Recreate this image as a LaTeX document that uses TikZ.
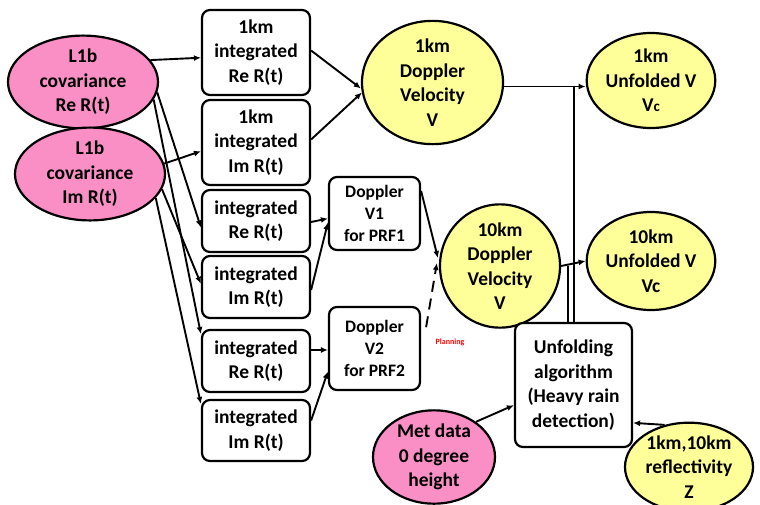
\documentclass[tikz,border=0pt]{standalone}
\usepackage{fontspec}
\setmainfont{Carlito}
\usetikzlibrary{shapes.geometric,arrows.meta,calc}
\definecolor{pinkfill}{RGB}{250,143,198}
\definecolor{yelfill}{RGB}{255,255,153}
\begin{document}
\begin{tikzpicture}[x=1pt,y=-1pt,
  every node/.style={font=\bfseries\fontsize{19.5}{24.5}\selectfont, align=center, inner sep=0pt, line width=2.2pt, draw=black},
  box/.style={rectangle, rounded corners=8pt, fill=white},
  small/.style={font=\bfseries\fontsize{17.5}{22}\selectfont},
  pinkell/.style={ellipse, fill=pinkfill},
  yelell/.style={ellipse, fill=yelfill},
  conn/.style={line width=1.9pt, draw=black, -{Latex[length=7pt,width=6pt]}},
  plain/.style={line width=1.9pt, draw=black},
]
\useasboundingbox (0,0) rectangle (760,504);
\clip (0,0) rectangle (760,504);
\fill[white] (0,0) rectangle (760,504);

% pink ellipses
\node[pinkell, minimum width=150pt, minimum height=90pt] (re) at (83,82) {L1b\\covariance\\Re R(t)};
\node[pinkell, minimum width=150pt, minimum height=88pt] (im) at (90,174) {L1b\\covariance\\Im R(t)};

% integration boxes
\node[box, minimum width=108pt, minimum height=85pt] (b1) at (256,52.5) {1km\\integrated\\Re R(t)};
\node[box, minimum width=108pt, minimum height=85pt] (b2) at (256,142.5) {1km\\integrated\\Im R(t)};
\node[box, minimum width=108pt, minimum height=62pt] (b3) at (256,221) {integrated\\Re R(t)};
\node[box, minimum width=108pt, minimum height=62pt] (b4) at (256,287) {integrated\\Im R(t)};
\node[box, minimum width=108pt, minimum height=62pt] (b5) at (256,361) {integrated\\Re R(t)};
\node[box, minimum width=108pt, minimum height=61pt] (b6) at (256,430.5) {integrated\\Im R(t)};

% Doppler boxes
\node[box, small, minimum width=91pt, minimum height=73pt] (d1) at (374.5,213.5) {Doppler\\V1\\for PRF1};
\node[box, small, minimum width=91pt, minimum height=83pt] (d2) at (374.5,348.5) {Doppler\\V2\\for PRF2};

% yellow ellipses
\node[yelell, minimum width=141pt, minimum height=109pt] (v1) at (432.5,82.5) {1km\\Doppler\\Velocity\\V};
\node[yelell, minimum width=120pt, minimum height=108pt] (v10) at (500,266) {10km\\Doppler\\Velocity\\V};
\node[yelell, minimum width=128pt, minimum height=95pt] (u1) at (651,80.5) {1km\\Unfolded V\\V{\fontsize{15}{15}\selectfont c}};
\node[yelell, minimum width=128pt, minimum height=98pt] (u10) at (651,261) {10km\\Unfolded V\\Vc};

% unfolding
\node[box, minimum width=117pt, minimum height=124pt] (unf) at (573.5,385) {Unfolding\\algorithm\\(Heavy rain\\detection)};
\node[pinkell, minimum width=122pt, minimum height=87pt] (met) at (434,457) {Met data\\0 degree\\height};
\node[yelell, minimum width=128pt, minimum height=86pt] (refl) at (689,467) {1km,10km\\reflectivity\\Z};

% Planning label
\node[draw=none, text=red, font=\bfseries\fontsize{8}{9}\selectfont] (plan) at (450,342) {Planning};

% connectors from ellipses to boxes
\draw[conn] (re.18) -- ($(b1.north west)!0.56!(b1.south west)$);
\draw[conn] (re.-8) -- ($(b3.north west)!0.6!(b3.south west)$);
\draw[conn] (re.-14) -- ($(b5.north west)!0.08!(b5.south west)$);
\draw[conn] (im.8) -- ($(b2.north west)!0.6!(b2.south west)$);
\draw[conn] (im.-12) -- ($(b4.north west)!0.45!(b4.south west)$);
\draw[conn] (im.-20) -- ($(b6.north west)!0.08!(b6.south west)$);

% boxes to 1km Doppler
\draw[conn] ($(b1.east)+(0,-2)$) -- ($(v1.west)+(0,6)$);
\draw[conn] ($(b2.east)+(0,-3)$) -- ($(v1.west)+(1,10)$);

% boxes to Doppler V1/V2
\draw[conn] ($(b3.east)+(0,1)$) -- ($(d1.west)+(0,5)$);
\draw[conn] ($(b4.east)+(0,3)$) -- ($(d1.west)+(0,9)$);
\draw[conn] ($(b5.east)+(0,-11)$) -- ($(d2.west)+(0,1.5)$);
\draw[conn] ($(b6.east)+(0,-10)$) -- ($(d2.west)+(0,23)$);

% Doppler V1 to 10km, V2 dashed
\draw[conn] ($(d1.north east)!0.2!(d1.south east)$) -- ($(v10.west)+(-1,-8)$);
\draw[conn, dash pattern=on 11pt off 7pt] ($(d2.north east)!0.25!(d2.south east)+(5,0)$) -- ($(v10.west)+(-2,-3)$);

% velocity to unfolded
\coordinate (v1e) at ($(v1.east)+(0,4)$);
\draw[conn] (v1e) -- (v1e -| u1.west);
\draw[conn] (v10.east) -- (u10.west);
\coordinate (x1) at (574,0);
\coordinate (x2) at (568,0);
\draw[plain] (v1e -| x1) -- (unf.north -| x1);
\draw[plain] (v10.east -| x2) -- (unf.north -| x2);

% inputs to unfolding
\draw[conn] (met.40) -- ($(unf.north west)!0.66!(unf.south west)$);
\draw[conn] (refl.120) -- ($(unf.north east)!0.8!(unf.south east)$);
\end{tikzpicture}
\end{document}
